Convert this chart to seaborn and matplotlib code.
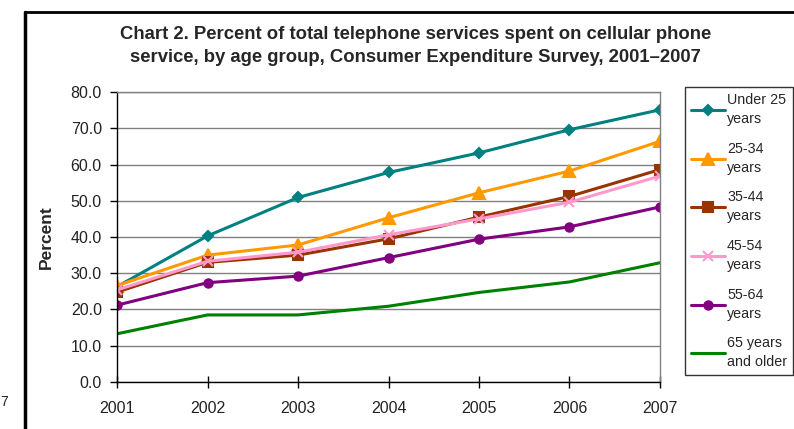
import matplotlib
matplotlib.use("Agg")
import matplotlib.pyplot as plt
import matplotlib.ticker as mticker
import matplotlib.lines as mlines
import pandas as pd
import seaborn as sns

## data
years = [2001, 2002, 2003, 2004, 2005, 2006, 2007]
under_25 = [26.3, 40.3, 50.9, 57.8, 63.2, 69.6, 75.1]
age_25_34 = [26.6, 35.0, 37.8, 45.3, 52.2, 58.2, 66.4]
age_35_44 = [24.8, 33.0, 35.0, 39.5, 45.5, 51.2, 58.6]
age_45_54 = [25.4, 33.3, 35.8, 40.6, 45.0, 49.6, 56.8]
age_55_64 = [21.2, 27.4, 29.2, 34.3, 39.4, 42.8, 48.3]
age_65_up = [13.3, 18.5, 18.5, 20.9, 24.7, 27.6, 32.9]

series_labels = ["Under 25\nyears", "25-34\nyears", "35-44\nyears",
                 "45-54\nyears", "55-64\nyears", "65 years\nand older"]
series_values = [under_25, age_25_34, age_35_44, age_45_54, age_55_64, age_65_up]
colors = ["#008080", "#FF9900", "#993300", "#FF99CC", "#800080", "#008000"]
markers = ["D", "^", "s", "x", "o", None]
msizes = [5.5, 8, 7, 7, 6, 0]

title = ("Chart 2. Percent of total telephone services spent on cellular phone\n"
         "service, by age group, Consumer Expenditure Survey, 2001\u20132007")

# long format for seaborn
rows = []
for lab, vals in zip(series_labels, series_values):
    for yr, v in zip(years, vals):
        rows.append({"year": yr, "percent": v, "group": lab})
df = pd.DataFrame(rows)

sns.set_style("white")
plt.rcParams["font.family"] = ["Liberation Sans", "DejaVu Sans"]

fig = plt.figure(figsize=(7.94, 4.29), dpi=100)
ax = fig.add_axes([0.1474, 0.1096, 0.6838, 0.6759])

handles = []
for lab, col, mk, ms in zip(series_labels, colors, markers, msizes):
    sub = df[df["group"] == lab]
    sns.lineplot(data=sub, x="year", y="percent", ax=ax, color=col,
                 linewidth=2.2, marker=mk, markersize=ms,
                 markeredgecolor=col, markeredgewidth=1.5, legend=False)
    handles.append(mlines.Line2D([], [], color=col, linewidth=2.2, marker=mk,
                                 markersize=ms, markeredgecolor=col,
                                 markeredgewidth=1.5, label=lab))

ax.set_xlim(2001, 2007)
ax.set_ylim(0, 80)
ax.set_xticks(years)
ax.set_yticks(range(0, 81, 10))
ax.yaxis.set_major_formatter(mticker.FormatStrFormatter("%.1f"))
ax.yaxis.grid(True, color="#808080", linewidth=1)
ax.set_axisbelow(True)
for s in ["top", "right"]:
    ax.spines[s].set_color("#808080")
    ax.spines[s].set_linewidth(1)
for s in ["left", "bottom"]:
    ax.spines[s].set_color("black")
    ax.spines[s].set_linewidth(1)
ax.tick_params(axis="x", direction="inout", length=9, width=1, labelsize=11.5,
               colors="black", labelcolor="#222222", pad=9, bottom=True)
ax.tick_params(axis="y", direction="out", length=5, width=1, labelsize=11.5,
               colors="black", labelcolor="#222222", pad=6, left=True)
ax.set_xlabel("")
ax.set_ylabel("Percent", fontsize=12.5, fontweight="bold", labelpad=12)

fig.text(0.523, 0.893, title, ha="center", va="center", fontsize=13.3,
         fontweight="bold", linespacing=1.45)

leg = fig.legend(handles=handles, loc="upper left",
                 bbox_to_anchor=(685 / 794, 1 - 87 / 429), fontsize=10.3,
                 frameon=True, fancybox=False, edgecolor="black",
                 handlelength=2.4, handletextpad=0.12, labelspacing=1.1,
                 borderpad=0.42, borderaxespad=0)
leg.get_frame().set_linewidth(1)
for t in leg.get_texts():
    t.set_linespacing(1.45)

# frame lines from the surrounding page
fig.add_artist(mlines.Line2D([25 / 794, 25 / 794], [0, 1 - 12 / 429],
                             color="black", linewidth=2.5))
fig.add_artist(mlines.Line2D([25 / 794, 1], [1 - 12 / 429, 1 - 12 / 429],
                             color="black", linewidth=2))
fig.text(0.0, 1 - 402 / 429, "7", fontsize=10, color="#222222", va="center")

fig.savefig("out.png", dpi=100)
